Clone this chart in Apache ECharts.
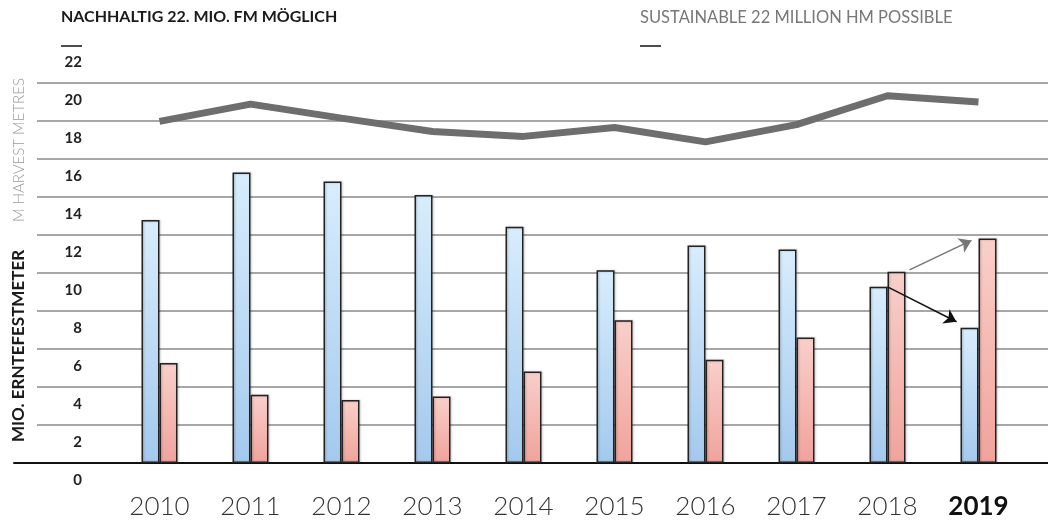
<!DOCTYPE html>
<html>
<head>
<meta charset="utf-8">
<script src="https://cdn.jsdelivr.net/npm/echarts@6/dist/echarts.min.js"></script>
<style>
  html, body { margin: 0; padding: 0; background: #fff; }
  #chart { width: 1048px; height: 525px; }
</style>
</head>
<body>
<div id="chart"></div>
<script>
const years = ['2010', '2011', '2012', '2013', '2014', '2015', '2016', '2017', '2018', '2019']
// blaue Balken
const blueValues = [12.79, 15.29, 14.81, 14.1, 12.44, 10.15, 11.45, 11.24, 9.27, 7.12]
// rote Balken
const redValues = [5.26, 3.59, 3.32, 3.5, 4.82, 7.51, 5.44, 6.61, 10.06, 11.82]
// nachhaltig möglich (graue Linie)
const sustainableValues = [17.98, 18.89, 18.15, 17.45, 17.19, 17.66, 16.9, 17.81, 19.33, 19.0]
const yMin = 0
const yMax = 22
const yStep = 2

const FONT = 'Lato, "Open Sans", sans-serif'
const BAR_W = 18

const chart = echarts.init(document.getElementById('chart'))

const hiddenY = (gridIndex) => ({
  type: 'value', gridIndex, min: yMin, max: yMax, interval: yStep, show: false,
})

const option = {
  animation: false,
  grid: [
    { left: 37, right: 0, top: 45, bottom: 62 }, // gridlines + labels
    { left: 114, right: 24, top: 45, bottom: 62 }, // bars + line
    { left: 14, right: 0, top: 45, bottom: 62 }, // baseline
  ],
  xAxis: [
    { type: 'value', gridIndex: 0, min: 0, max: 1, show: false },
    {
      type: 'category',
      gridIndex: 1,
      data: years,
      axisLine: { show: false },
      axisTick: { show: false },
      axisLabel: {
        interval: 0,
        margin: 31,
        fontFamily: FONT,
        fontSize: 26,
        fontWeight: 300,
        color: '#333',
        formatter: (v) => (v === '2019' ? '{b|' + v + '}' : v),
        rich: {
          b: { fontFamily: FONT, fontSize: 26, fontWeight: 'bold', color: '#111' },
        },
      },
    },
    {
      type: 'value',
      gridIndex: 2,
      min: 0,
      max: 1,
      axisLine: { show: true, lineStyle: { color: '#111', width: 2 } },
      axisTick: { show: false },
      axisLabel: { show: false },
      splitLine: { show: false },
    },
  ],
  yAxis: [
    {
      type: 'value',
      gridIndex: 0,
      min: yMin,
      max: yMax,
      interval: yStep,
      axisLine: { show: false },
      axisTick: { show: false },
      splitLine: {
        show: true,
        showMinLine: false,
        showMaxLine: false,
        lineStyle: { color: '#8a8a8a', width: 1.5 },
      },
      axisLabel: {
        inside: true,
        margin: 45,
        align: 'right',
        verticalAlign: 'top',
        formatter: (v) => '{a|' + v + '}',
        rich: {
          a: {
            padding: [10, 0, 0, 0],
            fontFamily: FONT,
            fontSize: 15,
            fontWeight: 'bold',
            color: '#222',
          },
        },
      },
    },
    hiddenY(1),
    hiddenY(2),
  ],
  series: [
    {
      id: 'blue',
      type: 'bar',
      xAxisIndex: 1,
      yAxisIndex: 1,
      data: blueValues,
      barWidth: BAR_W,
      barGap: '0%',
      itemStyle: {
        color: new echarts.graphic.LinearGradient(0, 0, 0, 1, [
          { offset: 0, color: '#d8edfc' },
          { offset: 1, color: '#a4c9ed' },
        ]),
        borderColor: '#222',
        borderWidth: 1.5,
        shadowColor: 'rgba(0,0,0,0.25)',
        shadowBlur: 2,
        shadowOffsetX: 1,
      },
      silent: true,
    },
    {
      id: 'red',
      type: 'bar',
      xAxisIndex: 1,
      yAxisIndex: 1,
      data: redValues,
      barWidth: BAR_W,
      barGap: '0%',
      itemStyle: {
        color: new echarts.graphic.LinearGradient(0, 0, 0, 1, [
          { offset: 0, color: '#f9cfca' },
          { offset: 1, color: '#f0a39b' },
        ]),
        borderColor: '#222',
        borderWidth: 1.5,
        shadowColor: 'rgba(0,0,0,0.25)',
        shadowBlur: 2,
        shadowOffsetX: 1,
      },
      silent: true,
    },
    {
      id: 'sustainable',
      type: 'line',
      xAxisIndex: 1,
      yAxisIndex: 1,
      data: sustainableValues,
      symbol: 'none',
      lineStyle: { color: '#6e6e6e', width: 7 },
      z: 5,
      silent: true,
    },
  ],
  graphic: [
    {
      type: 'text',
      left: 61,
      top: 9,
      style: {
        text: 'NACHHALTIG 22. MIO. FM MÖGLICH',
        fill: '#1a1a1a',
        font: 'bold 16px ' + FONT,
      },
    },
    {
      type: 'text',
      left: 640,
      top: 9,
      style: {
        text: 'SUSTAINABLE 22 MILLION HM POSSIBLE',
        fill: '#777',
        font: '16.5px ' + FONT,
      },
    },
    { type: 'line', shape: { x1: 61, y1: 46, x2: 82, y2: 46 }, style: { stroke: '#111', lineWidth: 1.5 } },
    { type: 'line', shape: { x1: 640, y1: 46, x2: 661, y2: 46 }, style: { stroke: '#111', lineWidth: 1.5 } },
    {
      type: 'text',
      x: 19,
      y: 442,
      rotation: Math.PI / 2,
      style: {
        text: 'MIO. ERNTEFESTMETER',
        fill: '#1a1a1a',
        font: 'bold 17px ' + FONT,
        align: 'left',
        verticalAlign: 'middle',
      },
    },
    {
      type: 'text',
      x: 19,
      y: 222,
      rotation: Math.PI / 2,
      style: {
        text: 'M HARVEST METRES',
        fill: '#999',
        font: '300 15px ' + FONT,
        align: 'left',
        verticalAlign: 'middle',
      },
    },
  ],
}

chart.setOption(option)

// Pfeile 2018 -> 2019, Positionen über die Achsen berechnen
const px = (i, v) => chart.convertToPixel({ xAxisIndex: 1, yAxisIndex: 1 }, [i, v])
const b18 = px(8, blueValues[8])
const b19 = px(9, blueValues[9])
const r18 = px(8, redValues[8])
const r19 = px(9, redValues[9])

const arrow = (from, to, color) => ({
  silent: true,
  symbol: ['none', 'arrow'],
  symbolSize: 12,
  label: { show: false },
  lineStyle: { color, width: 1.5, type: 'solid' },
  data: [[{ x: from[0], y: from[1] }, { x: to[0], y: to[1] }]],
})

chart.setOption({
  series: [
    { id: 'blue', markLine: arrow([b18[0], b18[1]], [b19[0] - BAR_W - 4, b19[1] - 6], '#111') },
    { id: 'red', markLine: arrow([r18[0] + BAR_W + 4, r18[1] - 2], [r19[0] - 7, r19[1] + 2], '#777') },
  ],
})
</script>
</body>
</html>
